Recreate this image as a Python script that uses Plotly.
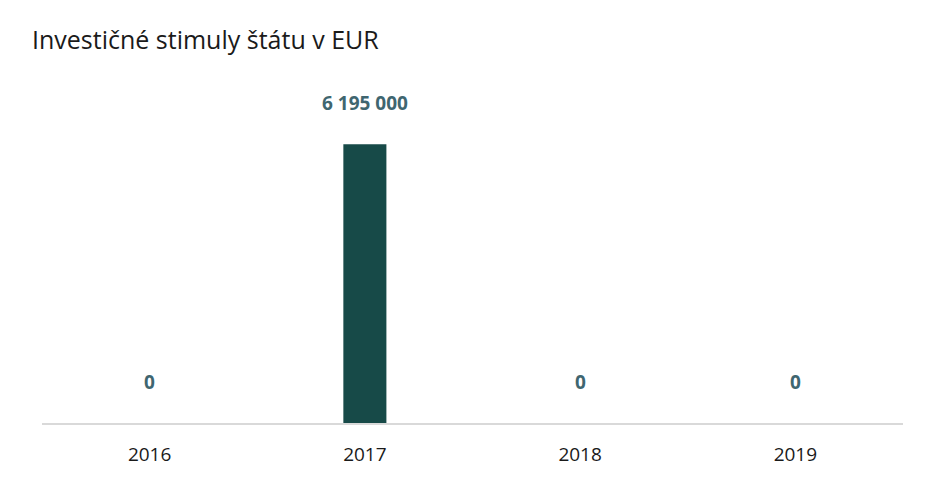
import plotly.graph_objects as go

categories = ["2016", "2017", "2018", "2019"]
values = [0, 6195000, 0, 0]
value_labels = ["0", "6 195 000", "0", "0"]

bar_color = "#174a48"
label_color = "#3f6670"

# page body has an 8px margin; compensate so the visible frame matches
W, H = 937, 476

fig = go.Figure()
fig.add_trace(go.Bar(
    x=categories, y=values, marker=dict(color=bar_color, line=dict(width=0)),
    width=0.2, hoverinfo="skip",
))
for i, (v, t) in enumerate(zip(values, value_labels)):
    fig.add_annotation(x=i, y=v, text=t, showarrow=False, yshift=41,
                       font=dict(family="Open Sans", size=19, color=label_color, weight="bold"))

fig.update_layout(
    width=W, height=H,
    margin=dict(l=34, r=42, t=100, b=61, autoexpand=False),
    paper_bgcolor="white", plot_bgcolor="white",
    showlegend=False,
    title=dict(text="Investičné stimuly štátu v EUR", x=24 / W, xanchor="left",
               y=1 - 32 / H, yanchor="middle",
               font=dict(family="Open Sans", size=25, color="#1a1a1a")),
    xaxis=dict(type="category", range=[-0.5, len(categories) - 0.5],
               showgrid=False, showline=True, linecolor="#d9d9d9",
               linewidth=2, ticks="", ticklabelstandoff=13, automargin=False,
               tickfont=dict(family="Open Sans", size=19, color="#1a1a1a")),
    yaxis=dict(visible=False, range=[0, 7000000], automargin=False),
)
fig.write_html("out.html")
